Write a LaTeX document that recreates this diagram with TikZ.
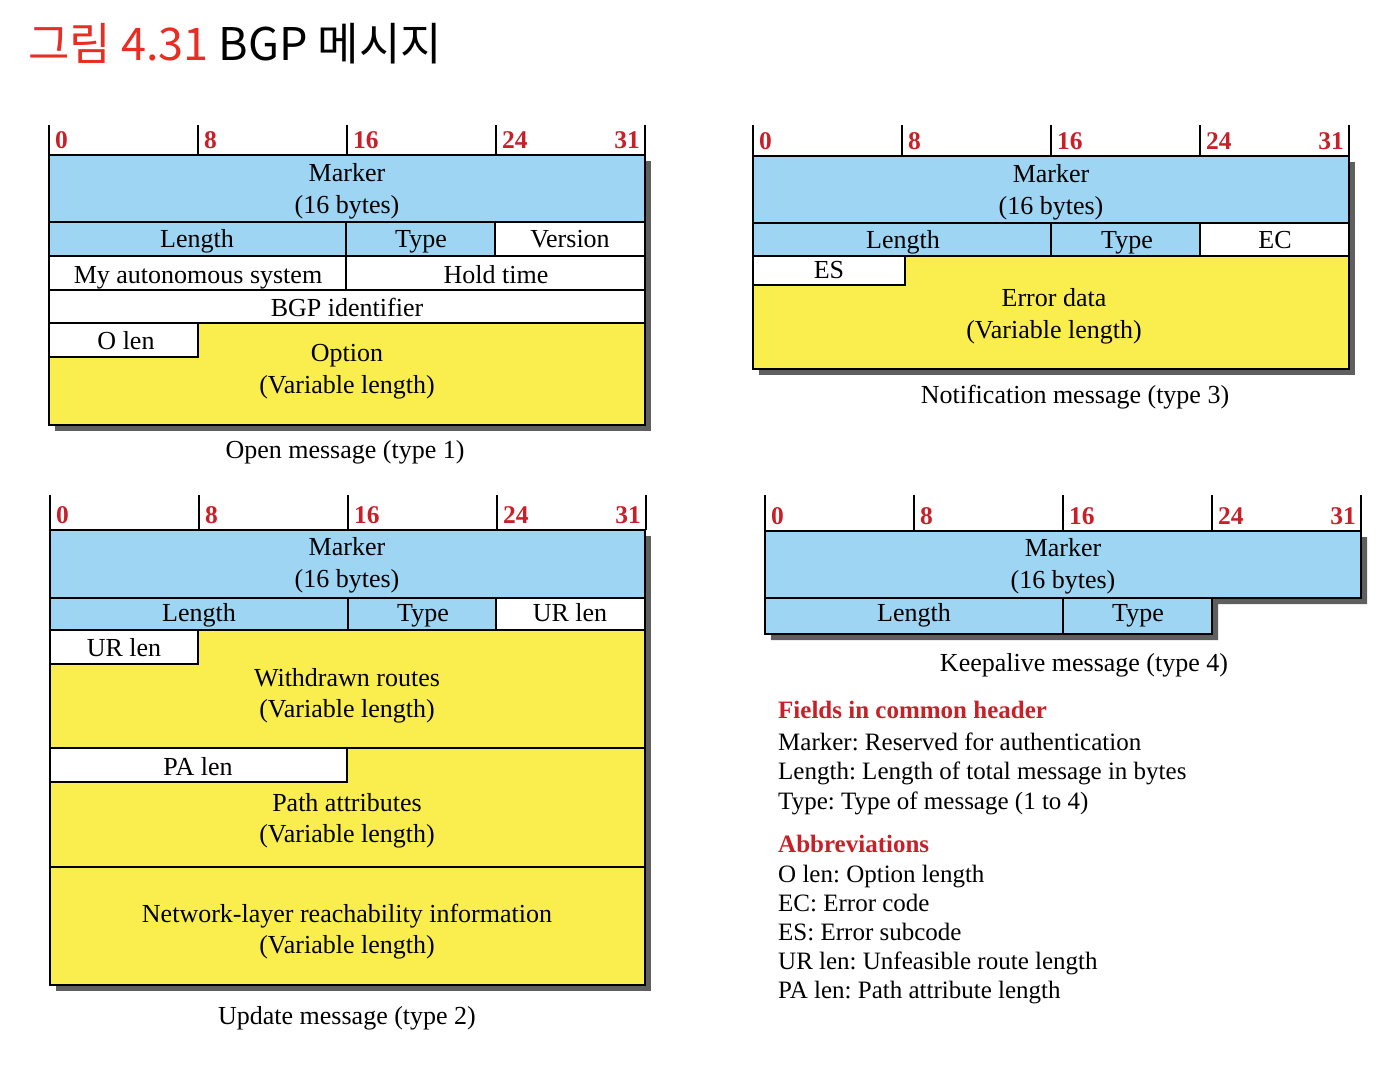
\documentclass[tikz,border=0pt]{standalone}
\usepackage{fontspec}
\setmainfont{Liberation Serif}
\newfontfamily\krfont{Noto Sans CJK KR}
\frenchspacing
\definecolor{fblue}{RGB}{157,213,243}
\definecolor{fyellow}{RGB}{250,238,78}
\definecolor{nred}{RGB}{200,32,40}
\definecolor{tred}{RGB}{232,45,35}
\definecolor{shadowc}{RGB}{95,95,95}
\tikzset{
 lbl/.style={anchor=base, inner sep=0, font=\fontsize{26}{30}\selectfont},
 num/.style={anchor=base west, inner sep=0, text=nred, font=\bfseries\fontsize{25.5}{28}\selectfont},
 numr/.style={num, anchor=base east},
 box/.style={draw=black, line width=1.6pt},
 tickline/.style={line width=1.5pt},
 shade/.style={fill=shadowc},
 captext/.style={anchor=base, inner sep=0, font=\fontsize{26}{30}\selectfont},
 leg/.style={anchor=base west, inner sep=0, font=\fontsize{25}{30}\selectfont},
 leghead/.style={leg, font=\bfseries\fontsize{25}{30}\selectfont, text=nred},
}
\newcommand\myruler[4]{%
 \foreach \k/\n in {0/0,1/8,2/16,3/24}{%
   \draw[tickline] (#1+149*\k,#2) -- (#1+149*\k,#3);
   \node[num] (#4n\n) at (#1+149*\k+6,#3-7) {\n};
 }
 \draw[tickline] (#1+596,#2) -- (#1+596,#3);
 \node[numr] (#4n31) at (#1+596-5,#3-7) {31};
}
\begin{document}
\begin{tikzpicture}[x=1pt,y=-1pt]
\useasboundingbox (0,0) rectangle (1398,1076);
% title
\node[anchor=base west, inner sep=0, font=\krfont\fontsize{45}{50}\selectfont] (title) at (28,60) {\textcolor{tred}{그림 4.31} BGP 메시지};

% ---------------- Open message
\fill[shade] (55,161) rectangle (651,431);
\myruler{49}{125}{155}{o}
\draw[box, fill=fblue] (49,155) rectangle (645,222);
\draw[box, fill=fblue] (49,222) rectangle (346,256);
\draw[box, fill=fblue] (346,222) rectangle (495,256);
\draw[box, fill=white] (495,222) rectangle (645,256);
\draw[box, fill=white] (49,256) rectangle (346,290);
\draw[box, fill=white] (346,256) rectangle (645,290);
\draw[box, fill=white] (49,290) rectangle (645,323);
\draw[box, fill=fyellow] (49,323) rectangle (645,425);
\draw[box, fill=white] (49,323) rectangle (198,357);
\node[lbl] (oMarker) at (347,181) {Marker};
\node[lbl] (oMarkerB) at (347,213) {(16 bytes)};
\node[lbl] (oLen) at (197,247) {Length};
\node[lbl] (oType) at (421,247) {Type};
\node[lbl] (oVer) at (570,247) {Version};
\node[lbl] (oAS) at (198,283) {My autonomous system};
\node[lbl] (oHold) at (496,283) {Hold time};
\node[lbl] (oBGP) at (347,316) {BGP identifier};
\node[lbl] (oOlen) at (126,349) {O len};
\node[lbl] (oOpt) at (347,361) {Option};
\node[lbl] (oOptB) at (347,393) {(Variable length)};
\node[captext] (oCap) at (345,458) {Open message (type 1)};

% ---------------- Notification message
\fill[shade] (759,162) rectangle (1355,375);
\myruler{753}{125}{156}{n}
\draw[box, fill=fblue] (753,156) rectangle (1349,223);
\draw[box, fill=fblue] (753,223) rectangle (1051,256);
\draw[box, fill=fblue] (1051,223) rectangle (1200,256);
\draw[box, fill=white] (1200,223) rectangle (1349,256);
\draw[box, fill=fyellow] (753,256) rectangle (1349,369);
\draw[box, fill=white] (753,256) rectangle (905,285);
\node[lbl] (nMarker) at (1051,182) {Marker};
\node[lbl] (nMarkerB) at (1051,214) {(16 bytes)};
\node[lbl] (nLen) at (903,248) {Length};
\node[lbl] (nType) at (1127,248) {Type};
\node[lbl] (nEC) at (1275,248) {EC};
\node[lbl] (nES) at (829,278) {ES};
\node[lbl] (nErr) at (1054,306) {Error data};
\node[lbl] (nErrB) at (1054,338) {(Variable length)};
\node[captext] (nCap) at (1075,403) {Notification message (type 3)};

% ---------------- Update message
\fill[shade] (56,536) rectangle (651,991);
\myruler{50}{495}{530}{u}
\draw[box, fill=fblue] (50,530) rectangle (645,598);
\draw[box, fill=fblue] (50,598) rectangle (348,630);
\draw[box, fill=fblue] (348,598) rectangle (496,630);
\draw[box, fill=white] (496,598) rectangle (645,630);
\draw[box, fill=fyellow] (50,630) rectangle (645,748);
\draw[box, fill=white] (50,630) rectangle (198,664);
\draw[box, fill=fyellow] (50,748) rectangle (645,867);
\draw[box, fill=white] (50,748) rectangle (347,782);
\draw[box, fill=fyellow] (50,867) rectangle (645,985);
\node[lbl] (uMarker) at (347,555) {Marker};
\node[lbl] (uMarkerB) at (347,587) {(16 bytes)};
\node[lbl] (uLen) at (199,621) {Length};
\node[lbl] (uType) at (423,621) {Type};
\node[lbl] (uUR) at (570,621) {UR len};
\node[lbl] (uURb) at (124,656) {UR len};
\node[lbl] (uWd) at (347,686) {Withdrawn routes};
\node[lbl] (uWdB) at (347,717) {(Variable length)};
\node[lbl] (uPA) at (198,775) {PA len};
\node[lbl] (uPath) at (347,811) {Path attributes};
\node[lbl] (uPathB) at (347,842) {(Variable length)};
\node[lbl] (uNL) at (347,922) {Network-layer reachability information};
\node[lbl] (uNLB) at (347,953) {(Variable length)};
\node[captext] (uCap) at (347,1024) {Update message (type 2)};

% ---------------- Keepalive message
\fill[shade] (771,537) -- (1367,537) -- (1367,604) -- (1218,604) -- (1218,640) -- (771,640) -- cycle;
\myruler{765}{495}{531}{k}
\draw[box, fill=fblue] (765,531) rectangle (1361,598);
\draw[box, fill=fblue] (765,598) rectangle (1063,634);
\draw[box, fill=fblue] (1063,598) rectangle (1212,634);
\node[lbl] (kMarker) at (1063,556) {Marker};
\node[lbl] (kMarkerB) at (1063,588) {(16 bytes)};
\node[lbl] (kLen) at (914,621) {Length};
\node[lbl] (kType) at (1138,621) {Type};
\node[captext] (kCap) at (1084,671) {Keepalive message (type 4)};

% ---------------- Legend
\node[leghead] (h1) at (778,718) {Fields in common header};
\node[leg] (l1) at (778,750) {Marker: Reserved for authentication};
\node[leg] (l2) at (778,779) {Length: Length of total message in bytes};
\node[leg] (l3) at (778,809) {Type: Type of message (1 to 4)};
\node[leghead] (h2) at (778,852) {Abbreviations};
\node[leg] (a1) at (778,882) {O len: Option length};
\node[leg] (a2) at (778,911) {EC: Error code};
\node[leg] (a3) at (778,940) {ES: Error subcode};
\node[leg] (a4) at (778,969) {UR len: Unfeasible route length};
\node[leg] (a5) at (778,998) {PA len: Path attribute length};
\end{tikzpicture}
\end{document}
